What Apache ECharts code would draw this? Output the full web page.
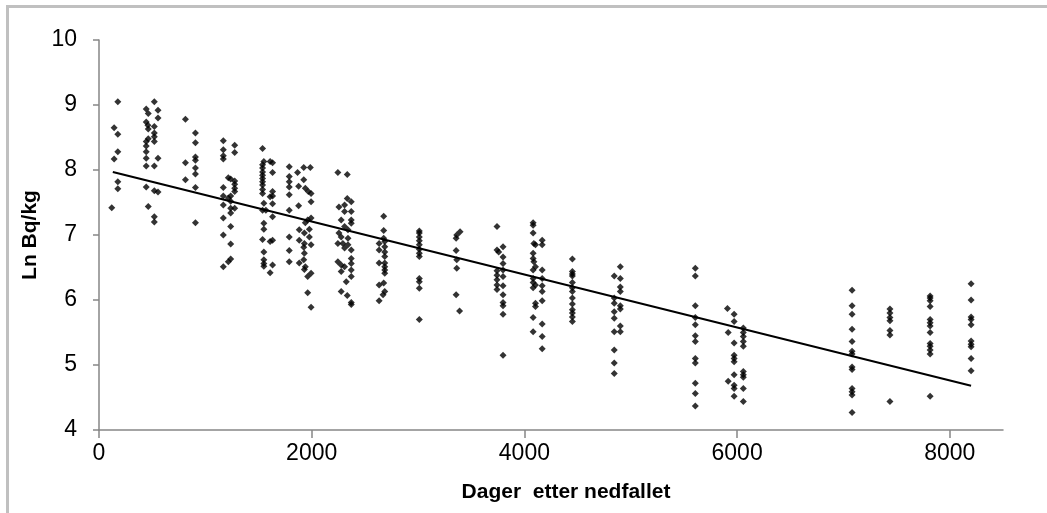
<!DOCTYPE html>
<html>
<head>
<meta charset="utf-8">
<script src="https://cdn.jsdelivr.net/npm/echarts@6/dist/echarts.min.js"></script>
<style>
html,body{margin:0;padding:0;background:#fff;}
#chart{width:1047px;height:513px;}
</style>
</head>
<body>
<div id="chart"></div>
<script>
// Tick labels
const xTicks = [0, 2000, 4000, 6000, 8000];
const yTicks = [4, 5, 6, 7, 8, 9, 10];

// Observations [days after fallout, ln Bq/kg], grouped by sampling column
const g01 = [[120,7.42],[142,8.65],[142,8.17],[177,9.05],[177,8.55],[177,8.28],[177,7.82],[177,7.71]];
const g02 = [[444,8.94],[463,8.87],[520,9.05],[555,8.92],[555,8.80],[444,8.74],[460,8.69],[463,8.63],[520,8.67],[520,8.57],[520,8.51],[463,8.48],[444,8.44],[520,8.44],[444,8.37],[444,8.28],[444,8.18],[555,8.18],[444,8.06],[520,8.06],[444,7.74],[520,7.68],[555,7.66],[463,7.44],[520,7.28],[520,7.20]];
const g03 = [[813,8.78],[813,8.11],[813,7.85],[907,8.57],[907,8.42],[907,8.20],[907,8.15],[907,8.03],[907,7.94],[907,7.73],[907,7.19]];
const g04 = [[1169,8.45],[1169,8.31],[1169,8.22],[1169,8.17],[1276,8.38],[1276,8.27],[1216,7.88],[1238,7.86],[1276,7.83],[1276,7.78],[1276,7.72],[1276,7.67],[1169,7.73],[1169,7.60],[1238,7.60],[1216,7.57],[1238,7.52],[1169,7.46],[1238,7.41],[1276,7.41],[1238,7.34],[1169,7.26],[1238,7.13],[1169,7.00],[1238,6.86],[1238,6.63],[1216,6.59],[1169,6.51]];
const g05 = [[1538,8.33],[1550,8.13],[1538,8.08],[1538,8.03],[1538,7.97],[1538,7.92],[1538,7.87],[1538,7.82],[1538,7.77],[1538,7.70],[1538,7.64],[1609,8.13],[1632,8.11],[1632,7.96],[1632,7.67],[1632,7.60],[1609,7.59],[1632,7.48],[1550,7.49],[1538,7.38],[1569,7.38],[1632,7.28],[1550,7.18],[1550,7.09],[1538,6.93],[1609,6.90],[1632,6.92],[1550,6.74],[1550,6.62],[1550,6.56],[1550,6.52],[1632,6.54],[1609,6.42]];
const g06 = [[1789,8.05],[1789,7.90],[1789,7.82],[1789,7.74],[1789,7.62],[1789,7.38],[1789,6.97],[1789,6.76],[1789,6.59],[1867,7.96],[1925,8.04],[1987,8.04],[1925,7.85],[1877,7.75],[1940,7.72],[1968,7.67],[1994,7.64],[1994,7.51],[1877,7.45],[1994,7.26],[1962,7.23],[1940,7.19],[1883,7.08],[1978,7.09],[1931,7.03],[1978,6.97],[1883,6.92],[1931,6.87],[1994,6.85],[1925,6.81],[1931,6.72],[1925,6.62],[1883,6.57],[1940,6.51],[1994,6.41],[1962,6.36],[1931,6.47],[1962,6.11],[1994,5.89]];
const g07 = [[2246,7.96],[2334,7.93],[2334,7.56],[2372,7.51],[2309,7.46],[2256,7.43],[2309,7.36],[2372,7.36],[2277,7.23],[2372,7.23],[2309,7.13],[2341,7.08],[2372,7.18],[2256,7.03],[2277,6.97],[2341,6.95],[2246,6.87],[2293,6.87],[2341,6.85],[2309,6.80],[2372,6.77],[2246,6.59],[2277,6.54],[2372,6.64],[2372,6.56],[2372,6.46],[2309,6.51],[2277,6.44],[2372,6.36],[2325,6.28],[2277,6.13],[2334,6.07],[2372,5.96],[2372,5.93]];
const g08 = [[2677,7.29],[2677,7.07],[2677,6.95],[2687,6.90],[2634,6.87],[2634,6.77],[2687,6.82],[2687,6.74],[2687,6.67],[2634,6.57],[2687,6.57],[2687,6.51],[2687,6.46],[2687,6.41],[2677,6.26],[2634,6.23],[2687,6.13],[2671,6.08],[2634,5.99]];
const g09 = [[3012,7.06],[3012,7.03],[3012,6.97],[3012,6.91],[3012,6.85],[3012,6.78],[3012,6.72],[3012,6.67],[3012,6.33],[3012,6.28],[3012,6.18],[3012,5.70]];
const g10 = [[3395,7.05],[3364,7.00],[3358,6.95],[3358,6.76],[3364,6.62],[3364,6.49],[3358,6.08],[3390,5.83]];
const g11 = [[3742,7.13],[3742,6.77],[3758,6.74],[3799,6.82],[3799,6.66],[3799,6.56],[3742,6.45],[3799,6.46],[3742,6.38],[3799,6.36],[3742,6.31],[3799,6.22],[3742,6.23],[3742,6.16],[3799,6.08],[3799,5.96],[3799,5.91],[3799,5.78],[3799,5.15]];
const g12 = [[4082,7.19],[4082,7.15],[4082,7.03],[4089,6.87],[4104,6.85],[4167,6.92],[4167,6.85],[4082,6.72],[4082,6.64],[4089,6.59],[4082,6.46],[4104,6.51],[4167,6.46],[4082,6.33],[4082,6.27],[4104,6.23],[4082,6.19],[4167,6.33],[4167,6.22],[4167,6.13],[4167,5.99],[4104,5.95],[4104,5.90],[4082,5.73],[4167,5.63],[4082,5.51],[4167,5.44],[4167,5.25]];
const g13 = [[4451,6.63],[4451,6.44],[4451,6.40],[4451,6.37],[4451,6.27],[4451,6.19],[4451,6.13],[4451,6.03],[4451,5.94],[4451,5.85],[4451,5.80],[4451,5.74],[4451,5.67]];
const g14 = [[4902,6.51],[4845,6.37],[4902,6.33],[4902,6.20],[4902,6.13],[4845,6.03],[4845,5.95],[4902,5.91],[4902,5.86],[4845,5.82],[4845,5.72],[4902,5.60],[4845,5.51],[4902,5.51],[4845,5.23],[4845,5.03],[4845,4.87]];
const g15 = [[5607,6.49],[5607,6.37],[5607,5.91],[5607,5.73],[5607,5.62],[5607,5.45],[5607,5.36],[5607,5.10],[5607,5.03],[5607,4.72],[5607,4.56],[5607,4.37]];
const g16 = [[5909,5.87],[5916,5.50],[5916,4.75],[5972,5.78],[5972,5.67],[5972,5.34],[5972,5.15],[5972,5.10],[5972,5.05],[5972,4.85],[5972,4.69],[5972,4.64],[5972,4.52],[6058,5.57],[6058,5.50],[6058,5.44],[6058,5.36],[6058,5.29],[6058,4.90],[6058,4.85],[6058,4.81],[6058,4.64],[6058,4.44]];
const g17 = [[7081,6.15],[7081,5.91],[7081,5.78],[7081,5.55],[7081,5.36],[7081,5.21],[7081,5.17],[7081,4.97],[7081,4.93],[7081,4.64],[7081,4.59],[7081,4.54],[7081,4.27]];
const g18 = [[7437,5.86],[7437,5.80],[7437,5.73],[7437,5.68],[7437,5.53],[7437,5.46],[7437,4.44]];
const g19 = [[7815,6.06],[7815,6.03],[7815,5.99],[7815,5.90],[7815,5.70],[7815,5.65],[7815,5.60],[7815,5.50],[7815,5.33],[7815,5.29],[7815,5.23],[7815,5.17],[7815,4.52]];
const g20 = [[8200,6.25],[8200,6.00],[8200,5.74],[8200,5.70],[8200,5.62],[8200,5.37],[8200,5.32],[8200,5.28],[8200,5.10],[8200,4.91]];

// Linear trend line end points
const trendDays = [130, 8200];
const trendValues = [7.97, 4.68];

const observations = [].concat(g01,g02,g03,g04,g05,g06,g07,g08,g09,g10,g11,g12,g13,g14,g15,g16,g17,g18,g19,g20);
const trend = trendDays.map((d, i) => [d, trendValues[i]]);

const chart = echarts.init(document.getElementById('chart'), null, {renderer: 'canvas'});
const font = "'Liberation Sans', Arial, sans-serif";
chart.setOption({
  animation: false,
  backgroundColor: '#ffffff',
  grid: {left: 99, right: 44, top: 40, bottom: 83, containLabel: false},
  xAxis: {
    type: 'value', min: 0, max: 8500, interval: 2000,
    name: 'Dager  etter nedfallet', nameLocation: 'middle', nameGap: 52,
    nameTextStyle: {fontFamily: font, fontWeight: 'bold', fontSize: 21, color: '#000', padding: [0, 0, 0, 30]},
    axisLine: {lineStyle: {color: '#868686', width: 1.5}},
    axisTick: {show: true, inside: false, length: 8, lineStyle: {color: '#868686', width: 1.5}, customValues: xTicks},
    axisLabel: {fontFamily: font, fontSize: 23, color: '#000', margin: 12, customValues: xTicks,
      formatter: v => String(v)},
    splitLine: {show: false}
  },
  yAxis: {
    type: 'value', min: 4, max: 10, interval: 1,
    name: 'Ln Bq/kg', nameLocation: 'middle', nameGap: 58, nameRotate: 90,
    nameTextStyle: {fontFamily: font, fontWeight: 'bold', fontSize: 21, color: '#000'},
    axisLine: {show: true, lineStyle: {color: '#868686', width: 1.5}},
    axisTick: {show: true, inside: false, length: 6, lineStyle: {color: '#868686', width: 1.5}, customValues: yTicks},
    axisLabel: {fontFamily: font, fontSize: 23, color: '#000', margin: 22, customValues: yTicks,
      formatter: v => String(v)},
    splitLine: {show: false}
  },
  series: [
    {
      type: 'scatter', data: observations, symbol: 'diamond', symbolSize: [7, 7],
      itemStyle: {color: '#000'}, silent: true
    },
    {
      type: 'line', data: trend, showSymbol: false, symbol: 'none',
      lineStyle: {color: '#000', width: 2}, silent: true, z: 3
    }
  ],
  graphic: [
    {type: 'line', shape: {x1: 6, y1: 6.5, x2: 1047, y2: 6.5}, style: {stroke: '#c0c0c0', lineWidth: 3}},
    {type: 'line', shape: {x1: 7.5, y1: 5, x2: 7.5, y2: 513}, style: {stroke: '#c0c0c0', lineWidth: 3}}
  ]
});
</script>
</body>
</html>
